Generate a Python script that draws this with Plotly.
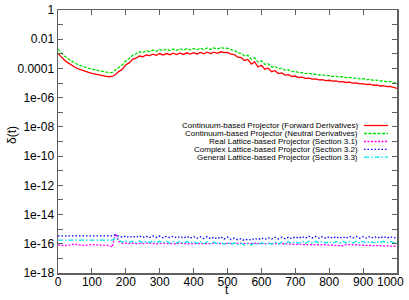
import plotly.graph_objects as go

t = list(range(0, 1001, 10))

fwd_log = [
    -2.97, -3.25, -3.45, -3.62, -3.78, -3.92, -4.03, -4.12, -4.20, -4.27,
    -4.33, -4.38, -4.43, -4.48, -4.53, -4.57, -4.55, -4.42, -4.20, -4.05,
    -3.75, -3.62, -3.38, -3.30, -3.15, -3.20, -3.08, -3.12, -3.02, -3.10,
    -2.98, -3.08, -2.98, -3.06, -2.96, -3.05, -2.94, -3.04, -2.93, -3.02,
    -2.92, -3.01, -2.90, -3.00, -2.89, -2.98, -2.88, -2.97, -2.86, -2.92,
    -2.90, -3.02, -3.05, -3.22, -3.25, -3.45, -3.38, -3.70, -3.55, -3.90,
    -3.78, -4.05, -3.98, -4.22, -4.15, -4.35, -4.30, -4.45, -4.42, -4.55,
    -4.52, -4.62, -4.60, -4.68, -4.66, -4.73, -4.71, -4.78, -4.76, -4.83,
    -4.81, -4.87, -4.85, -4.92, -4.90, -4.96, -4.94, -5.01, -4.99, -5.05,
    -5.04, -5.10, -5.08, -5.15, -5.13, -5.20, -5.18, -5.25, -5.23, -5.31,
    -5.36,
]

neu_log = [
    -2.68, -2.96, -3.17, -3.34, -3.50, -3.63, -3.75, -3.84, -3.92, -3.99,
    -4.05, -4.10, -4.15, -4.20, -4.24, -4.29, -4.27, -4.12, -3.92, -3.74,
    -3.48, -3.32, -3.10, -3.00, -2.86, -2.92, -2.79, -2.85, -2.74, -2.82,
    -2.70, -2.79, -2.68, -2.78, -2.67, -2.76, -2.65, -2.75, -2.64, -2.73,
    -2.63, -2.72, -2.62, -2.71, -2.60, -2.70, -2.59, -2.68, -2.57, -2.63,
    -2.62, -2.72, -2.76, -2.92, -2.96, -3.14, -3.10, -3.36, -3.27, -3.56,
    -3.48, -3.72, -3.68, -3.90, -3.85, -4.02, -3.99, -4.12, -4.10, -4.22,
    -4.20, -4.29, -4.28, -4.35, -4.34, -4.40, -4.39, -4.45, -4.44, -4.50,
    -4.49, -4.55, -4.53, -4.59, -4.57, -4.63, -4.61, -4.67, -4.66, -4.72,
    -4.70, -4.76, -4.75, -4.81, -4.80, -4.86, -4.85, -4.91, -4.90, -4.97,
    -5.02,
]

real_log = [
    -16.08, -16.12, -16.13, -16.10, -16.08, -16.02, -16.08, -16.11, -16.12, -16.09,
    -16.05, -16.07, -16.09, -16.08, -16.10, -16.12, -16.22, -15.30, -15.85, -15.98,
    -15.95, -15.99, -15.96, -16.00, -15.97, -15.99, -15.95, -15.98, -15.96, -16.00,
    -15.97, -15.98, -15.95, -15.99, -15.97, -16.00, -15.96, -15.98, -15.97, -16.01,
    -15.98, -15.99, -15.96, -16.00, -15.97, -15.99, -15.96, -15.98, -15.97, -16.00,
    -15.97, -15.99, -15.96, -15.98, -15.97, -15.99, -15.96, -15.98, -15.97, -15.99,
    -15.98, -16.00, -15.97, -15.99, -15.98, -16.00, -15.99, -16.02, -16.00, -16.03,
    -16.04, -16.05, -16.03, -16.05, -16.04, -16.06, -16.05, -16.07, -16.06, -16.08,
    -16.10, -16.11, -16.12, -16.13, -16.14, -16.05, -16.07, -16.08, -16.09, -16.10,
    -16.10, -16.11, -16.12, -16.12, -16.13, -16.13, -16.14, -16.14, -16.15, -16.16,
    -16.17,
]

complex_log = [
    -15.46, -15.46, -15.46, -15.46, -15.46, -15.46, -15.46, -15.46, -15.46, -15.46,
    -15.46, -15.46, -15.46, -15.46, -15.46, -15.46, -15.46, -15.40, -15.48, -15.55,
    -15.46, -15.58, -15.47, -15.56, -15.45, -15.57, -15.48, -15.58, -15.46, -15.57,
    -15.47, -15.59, -15.49, -15.58, -15.48, -15.60, -15.50, -15.61, -15.49, -15.62,
    -15.50, -15.63, -15.52, -15.64, -15.51, -15.66, -15.55, -15.67, -15.52, -15.68,
    -15.54, -15.70, -15.62, -15.72, -15.65, -15.78, -15.68, -15.75, -15.62, -15.72,
    -15.60, -15.70, -15.58, -15.68, -15.56, -15.67, -15.55, -15.66, -15.54, -15.65,
    -15.52, -15.63, -15.50, -15.62, -15.48, -15.60, -15.50, -15.62, -15.51, -15.63,
    -15.52, -15.62, -15.51, -15.63, -15.52, -15.62, -15.50, -15.61, -15.50, -15.62,
    -15.51, -15.62, -15.50, -15.61, -15.51, -15.62, -15.50, -15.61, -15.51, -15.60,
    -15.55,
]

general_log = [
    -15.75, -15.75, -15.75, -15.75, -15.75, -15.75, -15.75, -15.75, -15.75, -15.75,
    -15.75, -15.75, -15.75, -15.75, -15.75, -15.75, -15.75, -15.60, -15.78, -15.90,
    -15.80, -15.92, -15.82, -15.93, -15.81, -15.94, -15.83, -15.92, -15.80, -15.95,
    -15.83, -15.94, -15.82, -15.96, -15.84, -15.95, -15.83, -15.97, -15.85, -15.96,
    -15.84, -15.98, -15.86, -15.99, -15.87, -16.00, -15.88, -16.02, -15.90, -16.03,
    -15.92, -16.05, -15.95, -16.06, -15.96, -16.10, -15.98, -16.08, -15.95, -16.06,
    -15.93, -16.04, -15.92, -16.03, -15.90, -16.02, -15.88, -16.00, -15.86, -15.98,
    -15.84, -15.97, -15.83, -15.96, -15.82, -15.95, -15.83, -15.96, -15.84, -15.95,
    -15.83, -15.96, -15.84, -15.95, -15.83, -15.94, -15.84, -15.95, -15.83, -15.94,
    -15.84, -15.95, -15.83, -15.94, -15.84, -15.93, -15.83, -15.94, -15.84, -15.93,
    -15.88,
]

names = [
    "Continuum-based Projector (Forward Derivatives)",
    "Continuum-based Projector (Neutral Derivatives)",
    "Real Lattice-based Projector (Section 3.1)",
    "Complex Lattice-based Projector (Section 3.2)",
    "General Lattice-based Projector (Section 3.3)",
]
series = [fwd_log, neu_log, real_log, complex_log, general_log]
colors = ["#ff0000", "#00e000", "#ff00ff", "#0000ff", "#00e5e5"]
dashes = ["solid", "3px,1.5px", "2px,1.5px", "1.5px,2px", "5px,2px,1.5px,2px"]

ytick_exp = list(range(-18, 1))
ytick_labels = {0: "1", -2: "0.01", -4: "0.0001", -6: "1e-06", -8: "1e-08",
                -10: "1e-10", -12: "1e-12", -14: "1e-14", -16: "1e-16", -18: "1e-18"}
xticks = list(range(0, 1001, 100))
# trailing no-break spaces nudge the last label left, as in the reference
xtick_text = [str(v) if v < 1000 else str(v) + "\u00a0" * 4 for v in xticks]

fig = go.Figure()
for name, s, c, d in zip(names, series, colors, dashes):
    fig.add_trace(go.Scatter(
        x=t, y=[10 ** v for v in s], mode="lines", name=name,
        line=dict(color=c, width=1.3, dash=d), showlegend=False,
        hoverinfo="skip",
    ))

axis_color = "#606060"
fig.update_layout(
    width=409, height=300,
    margin=dict(l=58, r=12, t=10, b=27),
    paper_bgcolor="white", plot_bgcolor="white",
    font=dict(family="Liberation Sans, Arial, sans-serif", color="black", size=12),
    xaxis=dict(
        range=[0, 1000], tickvals=xticks, ticktext=xtick_text,
        ticks="inside", ticklen=5, tickcolor=axis_color, tickwidth=1,
        showline=True, linecolor=axis_color, linewidth=1.5, mirror="ticks",
        showgrid=False, zeroline=False, tickfont=dict(size=12), automargin=False,
        ticklabelstandoff=-3, ticklabeloverflow="allow",
    ),
    yaxis=dict(
        type="log", range=[-18, 0],
        tickvals=[10.0 ** e for e in ytick_exp],
        ticktext=[ytick_labels.get(e, "") for e in ytick_exp],
        ticks="inside", ticklen=5, tickcolor=axis_color, tickwidth=1,
        showline=True, linecolor=axis_color, linewidth=1.5, mirror="ticks",
        showgrid=False, zeroline=False, tickfont=dict(size=12), automargin=False,
    ),
)

# axis titles
fig.add_annotation(
    x=(12 - 58) / 339.0, y=1 - (135 - 10) / 263.0, xref="paper", yref="paper",
    text="δ(t)", textangle=-90, showarrow=False, xanchor="center", yanchor="middle",
    font=dict(size=12, color="black"),
)
fig.add_annotation(
    x=(227 - 58) / 339.0, y=1 - (290 - 10) / 263.0, xref="paper", yref="paper",
    text="t", showarrow=False, xanchor="center", yanchor="middle",
    font=dict(size=12, color="black"),
)

# Legend (text right-aligned, line sample on the right, gnuplot style)
legend_y = [125.5, 133.5, 141.5, 149.3, 157.2]
for name, c, d, yp in zip(names, colors, dashes, legend_y):
    yf = 1 - (yp - 10) / 263.0
    fig.add_annotation(
        x=(360 - 58) / 339.0, y=yf, xref="paper", yref="paper",
        text=name, showarrow=False, xanchor="right", yanchor="middle",
        font=dict(size=8, color="black"),
    )
    fig.add_shape(
        type="line", xref="paper", yref="paper",
        x0=(364 - 58) / 339.0, x1=(388 - 58) / 339.0, y0=yf, y1=yf,
        line=dict(color=c, width=1.3, dash=d),
    )

fig.write_html(
    "out.html",
    config={"displayModeBar": False, "staticPlot": True},
    post_script="document.body.style.margin='0';document.body.style.overflow='hidden';",
)
